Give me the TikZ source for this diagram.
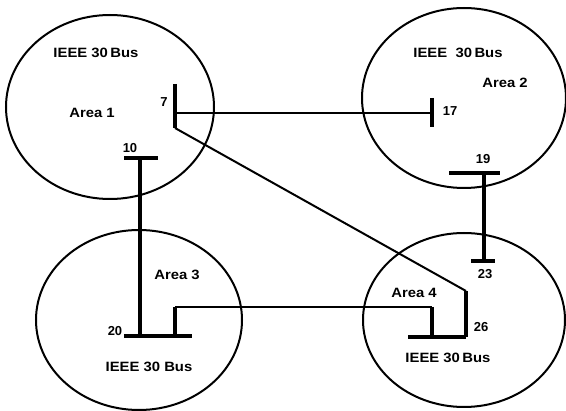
\documentclass[tikz,border=0pt]{standalone}
\usepackage{fontspec}
\setmainfont{Liberation Sans}
\begin{document}
\begin{tikzpicture}[x=1pt,y=-1pt,
  area/.style={draw, line width=2pt},
  busbar/.style={line width=4pt},
  tie/.style={line width=2pt},
  feeder/.style={line width=3.4pt},
  lbl/.style={font=\bfseries\fontsize{13.5}{15}\selectfont, inner sep=0pt, xscale=1.1},
  num/.style={font=\bfseries\fontsize{13}{15}\selectfont, inner sep=0pt}]
\useasboundingbox (0,0) rectangle (566,411);

% the four areas
\draw[area] (110,107) ellipse [x radius=104, y radius=92];
\draw[area] (464,98) ellipse [x radius=102, y radius=90];
\draw[area] (139,320) ellipse [x radius=103, y radius=90];
\draw[area] (464,320) ellipse [x radius=101, y radius=87];

% area labels
\node[lbl] (t1) at (96,53) {IEEE 30\,Bus};
\node[lbl] (a1) at (92,113) {Area 1};
\node[lbl] (t2) at (458,53) {IEEE\ \ 30\,Bus};
\node[lbl] (a2) at (505,83) {Area 2};
\node[lbl] (a3) at (177,275) {Area 3};
\node[lbl] (t3) at (149,367) {IEEE 30\ Bus};
\node[lbl] (a4) at (414,293) {Area 4};
\node[lbl] (t4) at (448,358) {IEEE 30\,Bus};

% bus bar end points and taps
\coordinate (b7t) at (175,84);   \coordinate (b7b) at (175,128);  \coordinate (b7m) at (175,113);
\coordinate (b17t) at (432,98);  \coordinate (b17b) at (432,127); \coordinate (b17m) at (432,113);
\coordinate (b10l) at (124,158); \coordinate (b10r) at (158,158); \coordinate (b10m) at (140,158);
\coordinate (b20l) at (124,336); \coordinate (b20r) at (192,336);
\coordinate (b20a) at (140,336); \coordinate (b20b) at (175,336);
\coordinate (b19l) at (449,173); \coordinate (b19r) at (500,173); \coordinate (b19m) at (484,173);
\coordinate (b23l) at (471,261); \coordinate (b23r) at (495,261); \coordinate (b23m) at (484,261);
\coordinate (b26l) at (408,337); \coordinate (b26r) at (466,337); \coordinate (b26m) at (432,337);
\coordinate (k1) at (466,291);
\coordinate (k2) at (175,307);
\coordinate (k3) at (432,307);

% bus bars
\draw[busbar] (b7t) -- (b7b);
\draw[busbar] (b17t) -- (b17b);
\draw[busbar] (b10l) -- (b10r);
\draw[busbar] (b20l) -- (b20r);
\draw[busbar] (b19l) -- (b19r);
\draw[busbar] (b23l) -- (b23r);
\draw[busbar] (b26l) -- (b26r);

% tie lines
\draw[tie] (b7m) -- (b17m);
\draw[tie] (b7b) -- (k1);
\draw[feeder] (k1) -- (b26r);
\draw[feeder] (b10m) -- (b20a);
\draw[feeder] (b19m) -- (b23m);
\draw[feeder] (b20b) -- (k2);
\draw[tie] (k2) -- (k3);
\draw[feeder] (k3) -- (b26m);

% bus numbers
\node[num] (n7) at (164,102) {7};
\node[num] (n17) at (450,111) {17};
\node[num] (n10) at (130,148) {10};
\node[num] (n19) at (483,159) {19};
\node[num] (n23) at (485,274) {23};
\node[num] (n20) at (115,331) {20};
\node[num] (n26) at (481,327) {26};
\end{tikzpicture}
\end{document}
